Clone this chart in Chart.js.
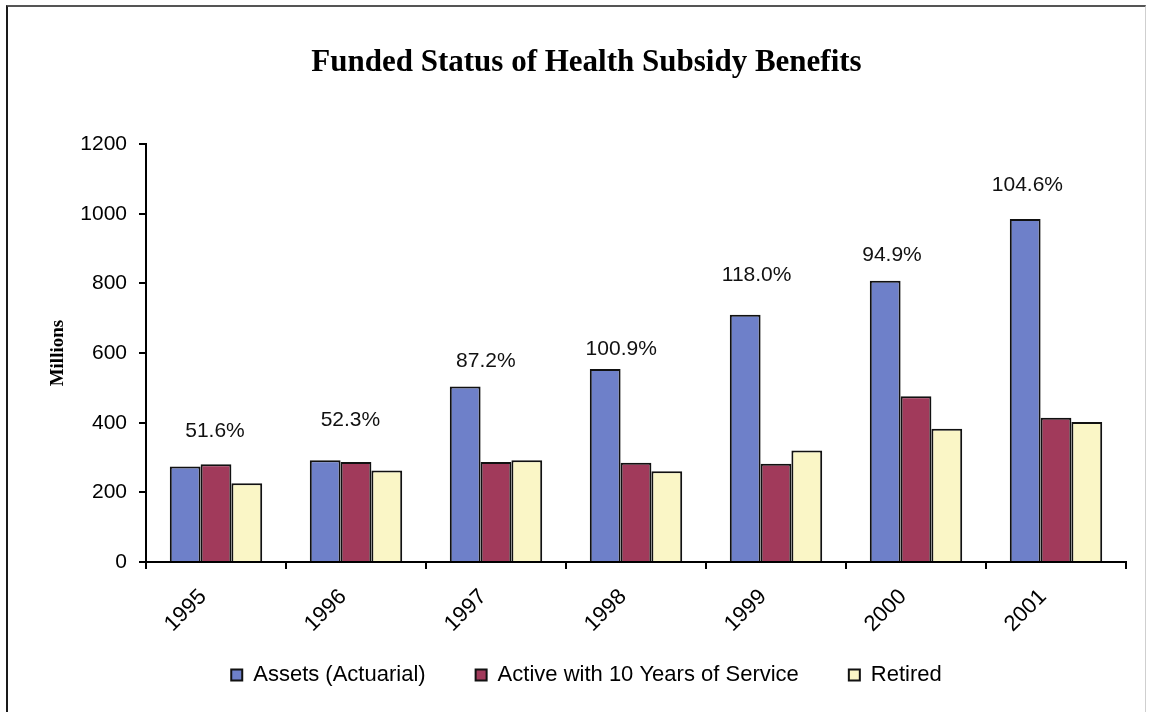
<!DOCTYPE html>
<html><head><meta charset="utf-8">
<script src="https://cdn.jsdelivr.net/npm/chart.js@4.4.1/dist/chart.umd.min.js"></script>
<style>
html,body{margin:0;padding:0;background:#fff;}
#wrap{position:relative;width:1149px;height:712px;overflow:hidden;background:#fff;}
#frame{position:absolute;left:6px;top:5px;right:3px;bottom:-5px;border-left:2px solid #1a1a1a;border-top:2px solid #555;border-right:1px solid #cfcfcf;pointer-events:none;}
canvas{position:absolute;left:0;top:0;}
</style></head><body>
<div id="wrap"><canvas id="c" width="1149" height="712"></canvas><div id="frame"></div></div>
<script>
const years = ['1995', '1996', '1997', '1998', '1999', '2000', '2001'];
const assetsActuarial = [274, 292, 504, 554, 710, 808, 985];
const activeTenYears = [281, 287, 287, 285, 282, 476, 414];
const retired = [226, 263, 292, 261, 320, 383, 402];
const fundedRatio = [51.6, 52.3, 87.2, 100.9, 118.0, 94.9, 104.6];
const ratioLabelLevel = [377, 406, 578, 612, 825, 881, 1082];
const yTicks = [0, 200, 400, 600, 800, 1000, 1200];
const seriesNames = ['Assets (Actuarial)', 'Active with 10 Years of Service', 'Retired'];

const SANS = '"Liberation Sans", Arial, sans-serif';
const SERIF = '"Liberation Serif", "Times New Roman", serif';
Chart.defaults.font.family = SANS;
Chart.defaults.font.size = 21;
Chart.defaults.color = '#000';

const ratioLabels = {
  id: 'ratioLabels',
  afterDatasetsDraw(chart) {
    const {ctx, scales: {x, y}} = chart;
    ctx.save();
    ctx.font = '21px ' + SANS;
    ctx.fillStyle = '#111';
    ctx.textAlign = 'center';
    ctx.textBaseline = 'middle';
    fundedRatio.forEach((v, i) => {
      const drift = -1 - 4.6 * i;
      ctx.fillText(v.toFixed(1) + '%', x.getPixelForValue(i) + drift, y.getPixelForValue(ratioLabelLevel[i]));
    });
    ctx.restore();
  }
};

new Chart(document.getElementById('c'), {
  type: 'bar',
  data: {
    labels: years,
    datasets: [
      {label: seriesNames[0], data: assetsActuarial, backgroundColor: '#6e80c9', borderColor: '#111', borderWidth: 2},
      {label: seriesNames[1], data: activeTenYears, backgroundColor: '#a13a5b', borderColor: '#111', borderWidth: 2},
      {label: seriesNames[2], data: retired, backgroundColor: '#faf6c6', borderColor: '#111', borderWidth: 2}
    ]
  },
  options: {
    responsive: false,
    animation: false,
    devicePixelRatio: 1,
    layout: {padding: {left: 47, right: 23, top: 0, bottom: 16}},
    datasets: {bar: {categoryPercentage: 0.66, barPercentage: 1.0}},
    plugins: {
      title: {
        display: true,
        text: 'Funded Status of Health Subsidy Benefits',
        font: {family: SERIF, size: 31, weight: 'bold'},
        color: '#000',
        padding: {top: 44, bottom: 63}
      },
      legend: {
        position: 'bottom',
        labels: {boxWidth: 11, boxHeight: 11, padding: 50, font: {size: 22}, color: '#000'}
      },
      tooltip: {enabled: false}
    },
    scales: {
      x: {
        grid: {display: true, drawOnChartArea: false, drawTicks: true, tickLength: 7, color: '#000', lineWidth: 2, offset: true},
        border: {display: true, color: '#000', width: 2},
        ticks: {minRotation: 45, maxRotation: 45, autoSkip: false, padding: 15, labelOffset: -13, font: {size: 22}, color: '#000'},
        afterFit: s => {
          s.height = 52;
          s._computeLabelArea = () => null;
        }
      },
      y: {
        min: 0, max: 1200,
        afterBuildTicks: s => { s.ticks = yTicks.map(v => ({value: v})); },
        grid: {display: true, drawOnChartArea: false, drawTicks: true, tickLength: 7, color: '#000', lineWidth: 2},
        border: {display: true, color: '#000', width: 2},
        ticks: {padding: 12, font: {size: 21}, color: '#000', callback: v => String(v)},
        title: {display: true, text: 'Millions', font: {family: SERIF, size: 19, weight: 'bold'}, color: '#000', padding: 0},
        afterFit: s => { s.width = 99; }
      }
    }
  },
  plugins: [ratioLabels]
});
</script>
</body></html>
